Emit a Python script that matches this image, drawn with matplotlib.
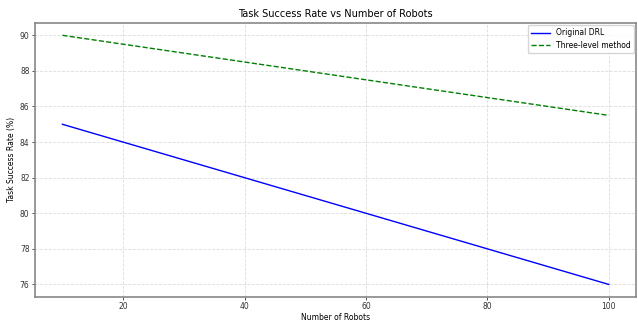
import matplotlib
matplotlib.use('Agg')
import matplotlib.pyplot as plt

robots = [10, 20, 30, 40, 50, 60, 70, 80, 90, 100]
original_drl = [85, 84, 83, 82, 81, 80, 79, 78, 77, 76]
three_level = [90, 89.5, 89, 88.5, 88, 87.5, 87, 86.5, 86, 85.5]

fig, ax = plt.subplots(figsize=(6.38, 3.22), dpi=100)
fig.subplots_adjust(left=0.055, right=0.997, top=0.929, bottom=0.078)

ax.plot(robots, original_drl, color='blue', linewidth=1, label='Original DRL')
ax.plot(robots, three_level, color='green', linestyle='--', linewidth=1, label='Three-level method')

ax.set_title('Task Success Rate vs Number of Robots', fontsize=7, pad=4)
ax.set_xlabel('Number of Robots', fontsize=5.5, labelpad=1)
ax.set_ylabel('Task Success Rate (%)', fontsize=5.5, labelpad=3)
ax.tick_params(labelsize=5.5, colors='#333333', length=2, width=0.6, pad=2)
ax.grid(True, linestyle='--', color='#dddddd', linewidth=0.6)
for s in ax.spines.values():
    s.set_color('#888888')
    s.set_linewidth(1.2)
ax.legend(fontsize=5.5, loc='upper right', handlelength=2.5, borderaxespad=0.3)

fig.savefig('out.png', dpi=100)
